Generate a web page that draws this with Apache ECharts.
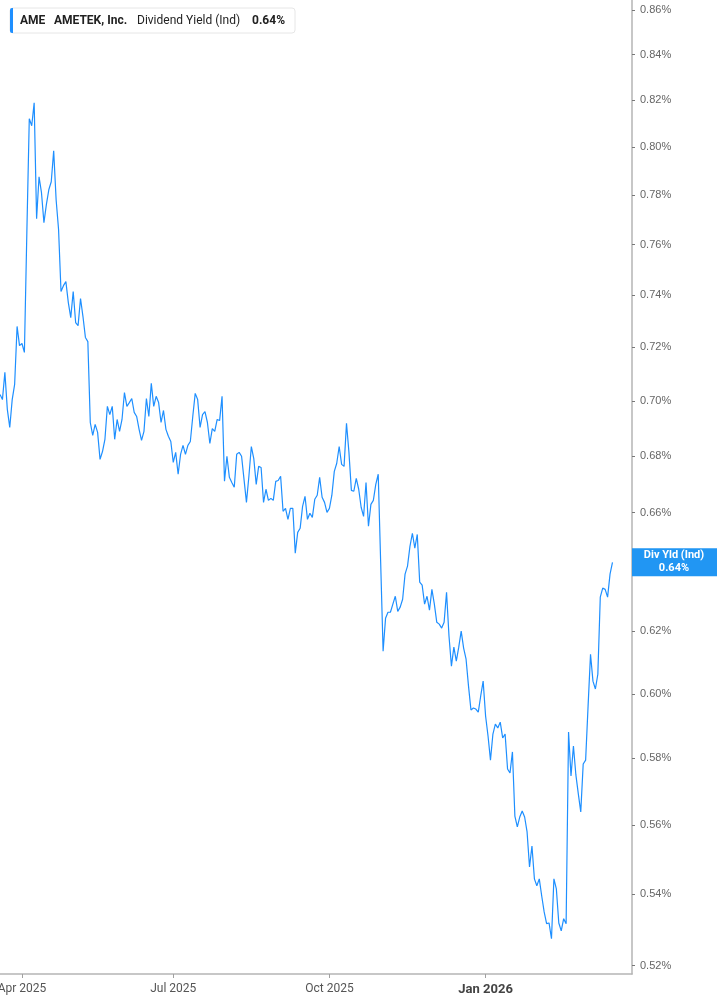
<!DOCTYPE html>
<html>
<head>
<meta charset="utf-8">
<script src="https://cdn.jsdelivr.net/npm/echarts@6/dist/echarts.min.js"></script>
<style>
html,body{margin:0;padding:0;background:#fff;}
#chart{width:717px;height:1005px;}
</style>
</head>
<body>
<div id="chart"></div>
<script>
// Trading-day calendar (NYSE) used for the category axis
const firstDay = '2025-03-19';
const lastDay = '2026-03-31';
const holidays = ['2025-04-18','2025-05-26','2025-06-19','2025-07-04','2025-09-01',
  '2025-11-27','2025-12-25','2026-01-01','2026-01-19','2026-02-16'];

function buildTradingDays(a, b, skip) {
  const out = [];
  const d = new Date(a + 'T00:00:00Z');
  const end = new Date(b + 'T00:00:00Z');
  while (d <= end) {
    const s = d.toISOString().slice(0, 10);
    const wd = d.getUTCDay();
    if (wd !== 0 && wd !== 6 && skip.indexOf(s) < 0) out.push(s);
    d.setUTCDate(d.getUTCDate() + 1);
  }
  return out;
}
const categories = buildTradingDays(firstDay, lastDay, holidays);

// Dividend yield (%) per trading day
const yieldPct = [
0.7024,0.7005,0.7106,0.6969,0.6903,0.7005,0.7061,0.7280,0.7207,0.7215,
0.7181,0.7648,0.8121,0.8091,0.8190,0.7705,0.7877,0.7811,0.7689,0.7762,
0.7823,0.7856,0.7985,0.7782,0.7661,0.7415,0.7438,0.7454,0.7372,0.7314,
0.7415,0.7295,0.7283,0.7388,0.7318,0.7238,0.7222,0.6921,0.6874,0.6914,
0.6885,0.6788,0.6816,0.6860,0.6980,0.6950,0.6980,0.6860,0.6932,0.6889,
0.6932,0.7031,0.6980,0.6994,0.7009,0.6958,0.6943,0.6896,0.6856,0.6889,
0.7009,0.6943,0.7065,0.6980,0.7017,0.6994,0.6921,0.6965,0.6896,0.6871,
0.6852,0.6777,0.6813,0.6735,0.6806,0.6838,0.6806,0.6838,0.6852,0.6943,
0.7028,0.7005,0.6903,0.6950,0.6961,0.6921,0.6845,0.6899,0.6889,0.6932,
0.6928,0.7017,0.6710,0.6799,0.6724,0.6706,0.6689,0.6806,0.6813,0.6799,
0.6717,0.6636,0.6728,0.6834,0.6791,0.6699,0.6763,0.6759,0.6636,0.6682,
0.6643,0.6650,0.6643,0.6710,0.6713,0.6728,0.6605,0.6615,0.6577,0.6615,
0.6615,0.6461,0.6532,0.6546,0.6622,0.6657,0.6577,0.6598,0.6584,0.6647,
0.6661,0.6724,0.6654,0.6636,0.6601,0.6615,0.6661,0.6745,0.6774,0.6834,
0.6770,0.6763,0.6918,0.6813,0.6678,0.6675,0.6720,0.6682,0.6619,0.6587,
0.6706,0.6553,0.6629,0.6643,0.6699,0.6735,0.6430,0.6136,0.6243,0.6263,
0.6263,0.6290,0.6316,0.6266,0.6280,0.6306,0.6390,0.6417,0.6484,0.6529,
0.6478,0.6525,0.6363,0.6353,0.6290,0.6316,0.6270,0.6339,0.6290,0.6230,
0.6224,0.6211,0.6230,0.6329,0.6185,0.6088,0.6149,0.6104,0.6149,0.6201,
0.6146,0.6110,0.6024,0.5949,0.5955,0.5952,0.5942,0.5993,0.6040,0.5930,
0.5868,0.5794,0.5874,0.5905,0.5893,0.5911,0.5862,0.5874,0.5767,0.5755,
0.5819,0.5626,0.5594,0.5623,0.5641,0.5623,0.5579,0.5477,0.5538,0.5443,
0.5423,0.5443,0.5394,0.5349,0.5316,0.5318,0.5274,0.5443,0.5414,0.5318,
0.5296,0.5330,0.5316,0.5880,0.5746,0.5837,0.5749,0.5692,0.5638,0.5782,
0.5794,0.5961,0.6126,0.6040,0.6015,0.6062,0.6313,0.6343,0.6339,0.6313,
0.6390,0.6430
];

// Axis ticks
const yTickValues = [0.52,0.54,0.56,0.58,0.60,0.62,0.64,0.66,0.68,0.70,0.72,0.74,0.76,0.78,0.80,0.82,0.84,0.86];
const xTickDates = ['2025-04-01','2025-07-01','2025-10-01','2026-01-02'];
const xTickLabels = ['Apr 2025','Jul 2025','Oct 2025','Jan 2026'];
const boldTickLabels = ['Jan 2026'];

const ticker = 'AME';
const company = 'AMETEK, Inc.';
const metric = 'Dividend Yield (Ind)';
const shortMetric = 'Div Yld (Ind)';

const lastVal = yieldPct[yieldPct.length - 1];
const lastText = lastVal.toFixed(2) + '%';
const BLUE = '#1e8fff';
const isTick = (idx) => xTickDates.indexOf(categories[idx]) >= 0;

const chart = echarts.init(document.getElementById('chart'), null, {renderer: 'canvas'});
chart.setOption({
  animation: false,
  backgroundColor: '#ffffff',
  grid: {left: 0, top: 0, width: 632, height: 974, containLabel: false, outerBoundsMode: 'none'},
  xAxis: {
    type: 'category',
    data: categories,
    boundaryGap: false,
    axisLine: {show: true, lineStyle: {color: '#b5b5b5', width: 1.5}},
    axisTick: {show: true, interval: (i) => isTick(i), length: 4, lineStyle: {color: '#a0a0a0', width: 1}},
    axisLabel: {
      interval: (i) => isTick(i),
      margin: 9,
      fontFamily: 'Roboto',
      fontSize: 12,
      color: '#555',
      formatter: (v) => {
        const k = xTickDates.indexOf(v);
        if (k < 0) return '';
        const t = xTickLabels[k];
        return boldTickLabels.indexOf(t) >= 0 ? '{b|' + t + '}' : t;
      },
      rich: {b: {fontFamily: 'Roboto', fontSize: 13, fontWeight: 'bold', color: '#444'}}
    },
    splitLine: {show: false}
  },
  yAxis: {
    type: 'log',
    logBase: 10,
    position: 'right',
    min: 0.5177,
    max: 0.8645,
    axisLine: {show: true, lineStyle: {color: '#b5b5b5', width: 1.5}},
    axisTick: {show: true, customValues: yTickValues, length: 3, lineStyle: {color: '#777', width: 1}},
    axisLabel: {
      customValues: yTickValues,
      margin: 8,
      fontFamily: 'Liberation Sans',
      fontSize: 11,
      color: '#666',
      formatter: (v) => Number(v).toFixed(2) + '%'
    },
    splitLine: {show: false}
  },
  series: [{
    type: 'line',
    data: yieldPct,
    showSymbol: false,
    smooth: false,
    lineStyle: {color: BLUE, width: 1.2},
    itemStyle: {color: BLUE},
    z: 3
  }]
});

const yPix = chart.convertToPixel({yAxisIndex: 0}, lastVal);

chart.setOption({
  graphic: [
    {type: 'rect', z: 100, shape: {x: 10, y: 8, width: 285, height: 25, r: 3},
     style: {fill: '#ffffff', stroke: '#e6e6e6', lineWidth: 1}},
    {type: 'rect', z: 101, shape: {x: 10, y: 8, width: 3, height: 25, r: [2, 0, 0, 2]},
     style: {fill: BLUE}},
    {type: 'text', z: 102, x: 20, y: 21,
     style: {text: ticker, fontFamily: 'Roboto', fontSize: 12, fontWeight: 'bold', fill: '#222', verticalAlign: 'middle'}},
    {type: 'text', z: 102, x: 54, y: 21,
     style: {text: company, fontFamily: 'Roboto', fontSize: 12, fontWeight: 'bold', fill: '#222', verticalAlign: 'middle'}},
    {type: 'text', z: 102, x: 137, y: 21,
     style: {text: metric, fontFamily: 'Roboto', fontSize: 12, fill: '#222', verticalAlign: 'middle'}},
    {type: 'text', z: 102, x: 252, y: 21,
     style: {text: lastText, fontFamily: 'Roboto', fontSize: 12, fontWeight: 'bold', fill: '#222', verticalAlign: 'middle'}},
    {type: 'rect', z: 100, shape: {x: 632, y: yPix - 14, width: 85, height: 28},
     style: {fill: '#2196f3'}},
    {type: 'text', z: 101, x: 674, y: yPix - 7,
     style: {text: shortMetric, fontFamily: 'Roboto', fontSize: 11, fontWeight: 'bold', fill: '#fff', align: 'center', verticalAlign: 'middle'}},
    {type: 'text', z: 101, x: 674, y: yPix + 6,
     style: {text: lastText, fontFamily: 'Roboto', fontSize: 11, fontWeight: 'bold', fill: '#fff', align: 'center', verticalAlign: 'middle'}}
  ]
});
</script>
</body>
</html>
